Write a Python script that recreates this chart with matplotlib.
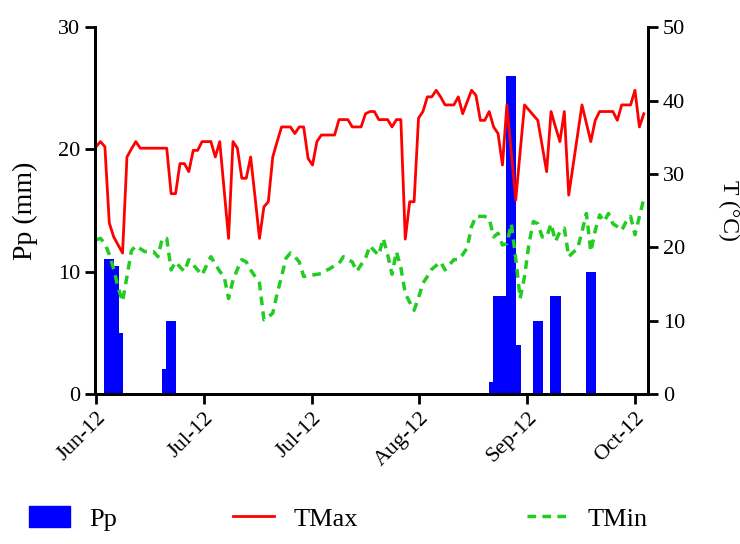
import matplotlib
matplotlib.use("Agg")
import matplotlib.pyplot as plt
from matplotlib.patches import Patch
from matplotlib.lines import Line2D
import numpy as np

plt.rcParams['font.family'] = ['Liberation Serif', 'DejaVu Serif']

# daily series, day 0 = 1 June 2012
tmax = [33.7, 34.4, 33.7, 23.3, 21.4, 20.3, 19.2, 32.3, 33.4, 34.4,
        33.5, 33.5, 33.5, 33.5, 33.5, 33.5, 33.5, 27.3, 27.3, 31.4,
        31.4, 30.3, 33.2, 33.2, 34.4, 34.4, 34.4, 32.3, 34.4, 27.8,
        21.2, 34.4, 33.5, 29.4, 29.4, 32.3, 26.8, 21.2, 25.5, 26.2,
        32.3, 34.4, 36.4, 36.4, 36.4, 35.5, 36.4, 36.4, 32.1, 31.2,
        34.4, 35.3, 35.3, 35.3, 35.3, 37.4, 37.4, 37.4, 36.4, 36.4,
        36.4, 38.2, 38.5, 38.5, 37.4, 37.4, 37.4, 36.4, 37.4, 37.4,
        21.1, 26.2, 26.2, 37.6, 38.5, 40.5, 40.5, 41.4, 40.5, 39.4,
        39.4, 39.4, 40.5, 38.2, 39.8, 41.4, 40.7, 37.3, 37.3, 38.5,
        36.4, 35.5, 31.2, 39.4, 32.9, 26.4, 33.0, 39.4, 38.7, 38.0,
        37.3, 33.8, 30.3, 38.5, 36.4, 34.4, 38.5, 27.1, 31.2, 35.3,
        39.4, 36.9, 34.4, 37.3, 38.5, 38.5, 38.5, 38.5, 37.3, 39.4,
        39.4, 39.4, 41.4, 36.4, 38.2]

tmin = [21.0, 21.2, 20.5, 19.0, 17.0, 14.5, 12.6, 16.0, 19.5, 20.2,
        19.8, 19.4, 19.4, 19.4, 18.7, 21.2, 21.2, 16.9, 18.0, 17.3,
        16.7, 18.3, 17.6, 16.9, 16.2, 17.5, 18.7, 17.7, 16.7, 16.0,
        13.0, 15.5, 17.0, 18.3, 18.0, 16.9, 16.0, 15.1, 10.1, 10.5,
        11.0, 13.7, 16.0, 18.5, 19.2, 18.7, 18.0, 16.0, 16.1, 16.2,
        16.3, 16.4, 16.8, 17.1, 17.5, 17.8, 18.7, 18.3, 18.0, 16.7,
        17.6, 18.5, 20.2, 19.5, 18.9, 21.2, 19.0, 16.3, 19.4, 17.2,
        13.7, 12.5, 11.4, 13.1, 15.1, 16.0, 17.0, 17.5, 18.0, 16.9,
        17.6, 18.3, 18.3, 19.0, 19.9, 22.8, 24.2, 24.2, 24.2, 23.9,
        21.4, 21.9, 20.3, 20.5, 23.2, 18.5, 13.0, 16.0, 20.5, 23.5,
        23.2, 21.4, 21.4, 23.2, 20.8, 22.1, 22.6, 18.7, 19.3, 19.8,
        22.1, 24.6, 19.4, 22.3, 24.4, 23.5, 24.6, 23.2, 22.8, 22.3,
        23.5, 24.2, 21.7, 24.2, 26.6]

pp_day = [3, 4, 5, 16, 17, 90, 91, 92, 94, 95, 100, 104, 112]
pp_mm = [11, 10.5, 5, 2, 6, 1, 8, 8, 26, 4, 6, 8, 10]

tick_labels = ['Jun-12', 'Jul-12', 'Jul-12', 'Aug-12', 'Sep-12', 'Oct-12']

BLUE = '#0000FF'
RED = '#FF0000'
GREEN = '#22CC22'
DASH = (0, (2.5, 1.8))

days = np.arange(len(tmax))
pp_day = np.array(pp_day)
pp_mm = np.array(pp_mm)
order = np.argsort(pp_mm, kind='stable')

fig = plt.figure(figsize=(7.4, 5.44), dpi=100)
ax = fig.add_axes([0.128, 0.276, 0.748, 0.674])
ax2 = ax.twinx()

ax.bar(pp_day[order], pp_mm[order], width=2.3, color=BLUE)
ax2.plot(days, tmax, color=RED, lw=2)
ax2.plot(days, tmin, color=GREEN, lw=2.5, ls=DASH)

ax.set_xlim(-0.3, 125)
ax.set_ylim(0, 30)
ax2.set_ylim(0, 50)
ax.set_yticks([0, 10, 20, 30])
ax2.set_yticks([0, 10, 20, 30, 40, 50])
ax.set_xticks(np.linspace(0, 122, 6))
ax.set_xticklabels(tick_labels, rotation=45, ha='right', rotation_mode='anchor')

for a in (ax, ax2):
    a.spines['top'].set_visible(False)
    for s in ('left', 'right', 'bottom'):
        a.spines[s].set_linewidth(2)
    a.tick_params(width=2, length=7, labelsize=16, direction='out')

ax.set_ylabel('Pp (mm)', fontsize=20, labelpad=14)
ax2.set_ylabel('T (°C)', fontsize=17, rotation=270, va='bottom', labelpad=24)

# legend row along the bottom, one entry at a time
entries = [
    (Patch(color=BLUE), 'Pp', 0.039),
    (Line2D([], [], color=RED, lw=2), 'TMax', 0.315),
    (Line2D([], [], color=GREEN, lw=2.5, ls=DASH), 'TMin', 0.712),
]
for handle, text, xpos in entries:
    fig.legend([handle], [text], loc='center left', bbox_to_anchor=(xpos, 0.047),
               frameon=False, fontsize=19, handlelength=1.55, handleheight=0.85,
               handletextpad=0.75, borderpad=0, borderaxespad=0)

fig.savefig('out.png', dpi=100)
